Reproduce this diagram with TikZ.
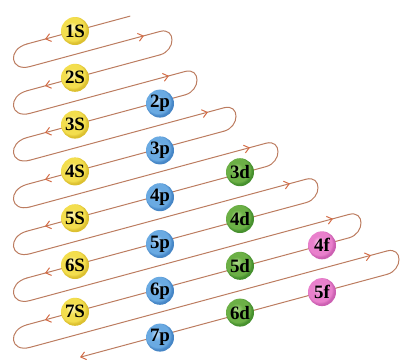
\documentclass[tikz,border=0pt]{standalone}
\usepackage{fontspec}
\setmainfont{Liberation Serif}
\usetikzlibrary{arrows.meta,decorations.markings,calc}
\definecolor{linec}{RGB}{188,124,96}
\definecolor{arrc}{RGB}{212,108,70}
\definecolor{yhi}{RGB}{255,248,190}
\definecolor{ybase}{RGB}{243,222,78}
\definecolor{yedge}{RGB}{220,192,48}
\definecolor{bhi}{RGB}{190,222,250}
\definecolor{bbase}{RGB}{106,170,226}
\definecolor{bedge}{RGB}{70,134,198}
\definecolor{ghi}{RGB}{176,220,140}
\definecolor{gbase}{RGB}{108,176,70}
\definecolor{gedge}{RGB}{70,144,46}
\definecolor{phi}{RGB}{250,196,234}
\definecolor{pbase}{RGB}{233,128,204}
\definecolor{pedge}{RGB}{204,96,178}
\pgfdeclareradialshading{yball}{\pgfpoint{-7bp}{7bp}}{color(0bp)=(yhi); color(11bp)=(ybase); color(21bp)=(ybase); color(25bp)=(yedge); color(50bp)=(yedge)}
\pgfdeclareradialshading{bball}{\pgfpoint{-7bp}{7bp}}{color(0bp)=(bhi); color(11bp)=(bbase); color(21bp)=(bbase); color(25bp)=(bedge); color(50bp)=(bedge)}
\pgfdeclareradialshading{gball}{\pgfpoint{-7bp}{7bp}}{color(0bp)=(ghi); color(11bp)=(gbase); color(21bp)=(gbase); color(25bp)=(gedge); color(50bp)=(gedge)}
\pgfdeclareradialshading{pball}{\pgfpoint{-7bp}{7bp}}{color(0bp)=(phi); color(11bp)=(pbase); color(21bp)=(pbase); color(25bp)=(pedge); color(50bp)=(pedge)}
\tikzset{
  wire/.style={draw=linec, line width=1bp, line cap=round},
  barb/.tip={Straight Barb[length=5bp,width=8bp,line width=1bp]},
  dnarrow/.style={postaction={decorate}, decoration={markings,
     mark=at position -18.6bp with {\arrow[arrc]{barb}}}},
  uparrow/.style={postaction={decorate}, decoration={markings,
     mark=at position -16.6bp with {\arrow[arrc]{barb}}}},
  orb/.style={circle, minimum size=28bp, inner sep=0pt, text=black,
     font=\fontsize{19}{19}\selectfont\bfseries},
  sorb/.style={orb, shade, shading=yball},
  porb/.style={orb, shade, shading=bball},
  dorb/.style={orb, shade, shading=gball},
  forb/.style={orb, shade, shading=pball}
}
\begin{document}
\begin{tikzpicture}[x=1bp,y=-1bp]
\useasboundingbox (0,0) rectangle (401,362);
% left-loop ends of each line
\foreach \n in {1,...,7} {
  \pgfmathsetmacro\cc{31+46.8*(\n-1)}
  \coordinate (A\n) at (27,{\cc+12.96});
  \coordinate (B\n) at (30,{\cc+35.55});
}
% right-loop ends
\foreach \n/\r in {1/172,2/197,3/236,4/278,5/318,6/361,7/399} {
  \pgfmathsetmacro\cc{31+46.8*(\n-1)}
  \pgfmathsetmacro\xp{\r-12}
  \pgfmathsetmacro\ya{\cc+23.4-0.27*(\xp-75)}
  \pgfmathsetmacro\yb{\cc+46.8-0.27*(\xp-75)}
  \coordinate (P\n) at (\xp,\ya);
  \coordinate (Q\n) at (\xp,\yb);
}
\coordinate (S0) at (130,16.15);
\coordinate (E8) at (80,357.25);
% descending lines
\draw[wire,dnarrow] (S0) -- (A1);
\foreach \n [evaluate=\n as \m using int(\n-1)] in {2,...,7}
  \draw[wire,dnarrow] (Q\m) -- (A\n);
\draw[wire,-{barb[color=arrc]}] (Q7) -- (E8);
% left loops, ascending lines, right loops
\foreach \n in {1,...,7} {
  \draw[wire] (A\n) .. controls ($(A\n)+(-20,5.4)$) and ($(B\n)+(-20,5.4)$) .. (B\n);
  \draw[wire,uparrow] (B\n) -- (P\n);
  \draw[wire] (P\n) .. controls ($(P\n)+(16,-4.32)$) and ($(Q\n)+(16,-4.32)$) .. (Q\n);
}
% orbitals
\node[sorb] (s1) at (75,31) {1S};
\node[sorb] (s2) at (75,77.8) {2S};
\node[sorb] (s3) at (75,124.6) {3S};
\node[sorb] (s4) at (75,171.4) {4S};
\node[sorb] (s5) at (75,218.2) {5S};
\node[sorb] (s6) at (75,265) {6S};
\node[sorb] (s7) at (75,311.8) {7S};
\node[porb] (p2) at (160,103.6) {2p};
\node[porb] (p3) at (160,150.4) {3p};
\node[porb] (p4) at (160,197.2) {4p};
\node[porb] (p5) at (160,244) {5p};
\node[porb] (p6) at (160,290.8) {6p};
\node[porb] (p7) at (160,337.6) {7p};
\node[dorb] (d3) at (240,172.2) {3d};
\node[dorb] (d4) at (240,219) {4d};
\node[dorb] (d5) at (240,265.8) {5d};
\node[dorb] (d6) at (240,312.6) {6d};
\node[forb] (f4) at (322,245.3) {4f};
\node[forb] (f5) at (322,292.1) {5f};
\end{tikzpicture}
\end{document}
